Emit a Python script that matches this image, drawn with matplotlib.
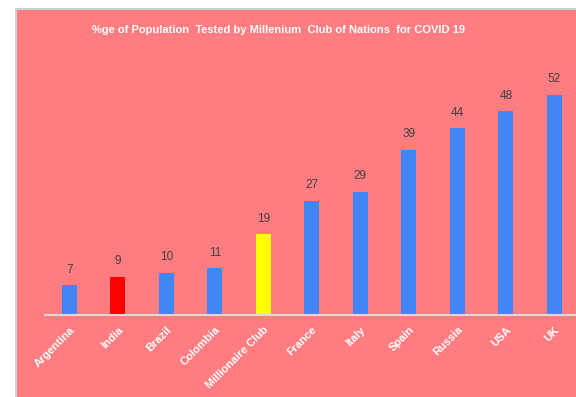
import matplotlib
matplotlib.use("Agg")
import matplotlib.pyplot as plt
from matplotlib.patches import Rectangle

countries = ["Argentina", "India", "Brazil", "Colombia", "Millionaire Club",
             "France", "Italy", "Spain", "Russia", "USA", "UK"]
tested_pct = [7, 9, 10, 11, 19, 27, 29, 39, 44, 48, 52]
bar_colors = ["#4285F4", "#FF0000", "#4285F4", "#4285F4", "#FFFF00",
              "#4285F4", "#4285F4", "#4285F4", "#4285F4", "#4285F4", "#4285F4"]
title = "%ge of Population  Tested by Millenium  Club of Nations  for COVID 19"

plt.rcParams["font.family"] = ["Liberation Sans", "DejaVu Sans"]

W, H, DPI = 576, 397, 100
fig = plt.figure(figsize=(W / DPI, H / DPI), dpi=DPI, facecolor="white")

# chart area panel behind the axes (runs off the right and bottom edges)
panel = Rectangle((16 / W, -0.02), 1.05 - 16 / W, 1.02 - 9 / H, transform=fig.transFigure,
                  facecolor="#FF7C80", edgecolor="#D0D0D0", linewidth=1.5, zorder=-5)
fig.patches.append(panel)

slot = 48.5
left_px, base_px = 45, 315
ymax = 60
px_per_unit = 4.24
ax = fig.add_axes([left_px / W, (H - base_px) / H, (W - left_px) / W, ymax * px_per_unit / H])
ax.set_zorder(1)
ax.set_facecolor("none")
x = list(range(len(countries)))
bars = ax.bar(x, tested_pct, width=15 / slot, color=bar_colors, zorder=2)
ax.set_xlim(-0.5, (W - left_px) / slot - 0.5)
ax.set_ylim(0, ymax)

for rect, v in zip(bars, tested_pct):
    ax.annotate(f"{v}", (rect.get_x() + rect.get_width() / 2, v),
                xytext=(0, 7), textcoords="offset points", ha="center", va="bottom",
                fontsize=8.5, color="#404040")

for s in ["top", "right", "left"]:
    ax.spines[s].set_visible(False)
ax.spines["bottom"].set_color("#D9D9D9")
ax.spines["bottom"].set_linewidth(1.5)
ax.set_yticks([])
ax.set_xticks(x)
ax.set_xticklabels(countries, rotation=45, ha="right", rotation_mode="anchor",
                   color="white", fontsize=8, fontweight="bold")
ax.tick_params(axis="x", length=0, pad=7)

fig.text(279 / W, 1 - 30 / H, title, ha="center", va="center",
         color="white", fontsize=8.0, fontweight="bold")

fig.savefig("out.png", dpi=DPI, facecolor="white")
